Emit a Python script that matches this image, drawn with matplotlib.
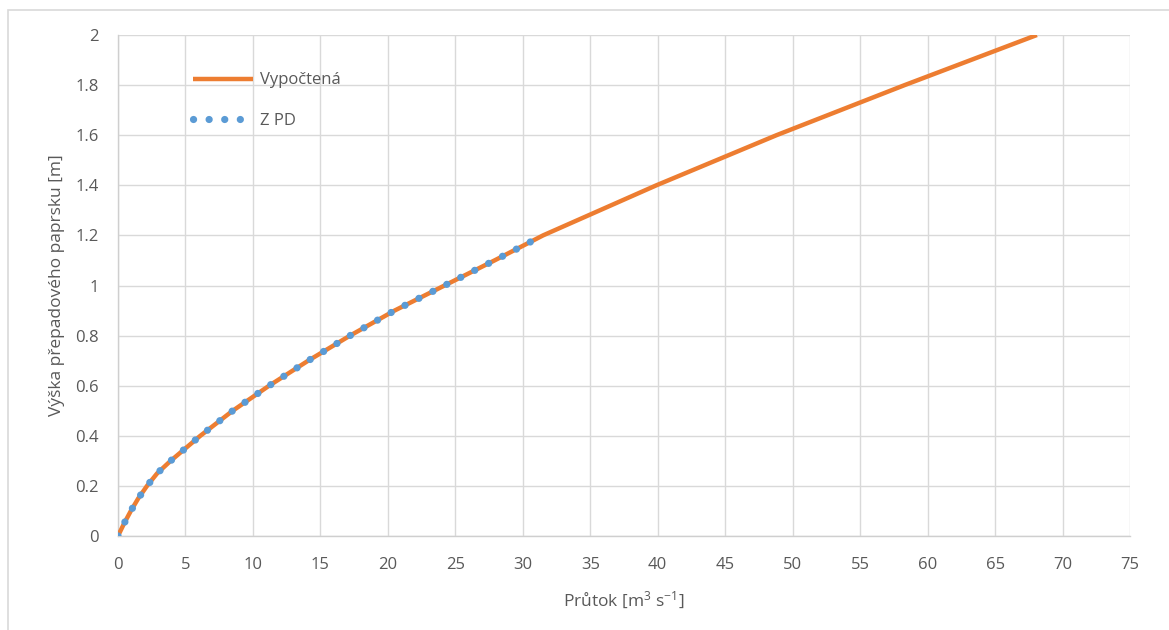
import matplotlib
matplotlib.use("Agg")
import matplotlib.pyplot as plt
from matplotlib.patches import Rectangle

# Data
h_calc = [0, 0.05, 0.1, 0.15, 0.2, 0.25, 0.3, 0.35, 0.4, 0.45, 0.5, 0.6, 0.7, 0.8, 0.9, 1.0, 1.1, 1.2, 1.4, 1.6, 1.8, 2.0]
q_calc = [0, 0.45, 0.95, 1.5, 2.15, 2.9, 3.9, 5.0, 6.1, 7.3, 8.5, 11.2, 14.1, 17.2, 20.5, 24.2, 27.9, 31.5, 39.9, 48.8, 58.3, 68.1]

h_pd = [0, 0.05, 0.1, 0.15, 0.2, 0.25, 0.3, 0.35, 0.4, 0.45, 0.5, 0.6, 0.7, 0.8, 0.9, 1.0, 1.1, 1.2]
q_pd = [0, 0.45, 0.95, 1.5, 2.15, 2.9, 3.9, 5.0, 6.1, 7.3, 8.5, 11.2, 14.1, 17.2, 20.5, 24.2, 27.9, 31.5]

x_ticks = list(range(0, 80, 5))
y_ticks = [0, 0.2, 0.4, 0.6, 0.8, 1.0, 1.2, 1.4, 1.6, 1.8, 2.0]
y_tick_labels = ["0", "0.2", "0.4", "0.6", "0.8", "1", "1.2", "1.4", "1.6", "1.8", "2"]

label_calc = "Vypočtená"
label_pd = "Z PD"
xlabel = "Průtok [m$^{3}$ s$^{-1}$]"
ylabel = "Výška přepadového paprsku [m]"

plt.rcParams['font.family'] = ['Open Sans', 'DejaVu Sans']
plt.rcParams['mathtext.default'] = 'regular'

W, H = 1169, 630
fig = plt.figure(figsize=(W / 100, H / 100), dpi=100)
fig.patch.set_facecolor('white')

# outer chart-area border
fig.patches.append(Rectangle((8 / W, -0.05), 1.2, (630 - 10) / H + 0.05,
                             transform=fig.transFigure, fill=False,
                             edgecolor='#d9d9d9', linewidth=1.2))

ax = fig.add_axes([118 / W, (630 - 536) / H, (1130 - 118) / W, (536 - 35) / H])

ax.plot(q_calc, h_calc, color='#ED7D31', linewidth=3.2, solid_capstyle='butt',
        solid_joinstyle='round', label=label_calc, zorder=3)
ax.plot(q_pd, h_pd, color='#5B9BD5', linewidth=5.2, linestyle=(0, (0.01, 2.15)),
        dash_capstyle='round', label=label_pd, zorder=4)

ax.set_xlim(0, 75)
ax.set_ylim(0, 2)
ax.set_xticks(x_ticks)
ax.set_yticks(y_ticks)
ax.set_yticklabels(y_tick_labels)

ax.grid(True, color='#d9d9d9', linewidth=1.0)
ax.set_axisbelow(True)
for s in ['top', 'right']:
    ax.spines[s].set_visible(False)
for s in ['left', 'bottom']:
    ax.spines[s].set_color('#cfcfcf')
    ax.spines[s].set_linewidth(1.0)

ax.tick_params(axis='both', length=0, labelsize=12, labelcolor='#595959')
ax.tick_params(axis='x', pad=15)
ax.tick_params(axis='y', pad=14)

ax.set_xlabel(xlabel, fontsize=12.5, color='#595959', labelpad=12)
ax.set_ylabel(ylabel, fontsize=12.5, color='#595959', labelpad=7)

leg = ax.legend(loc='upper left', bbox_to_anchor=(185 / W, (630 - 64) / H),
                bbox_transform=fig.transFigure, frameon=False, fontsize=12,
                handlelength=3.6, handletextpad=0.4, labelspacing=1.45,
                borderpad=0, labelcolor='#595959')

fig.savefig('out.png', dpi=100)
